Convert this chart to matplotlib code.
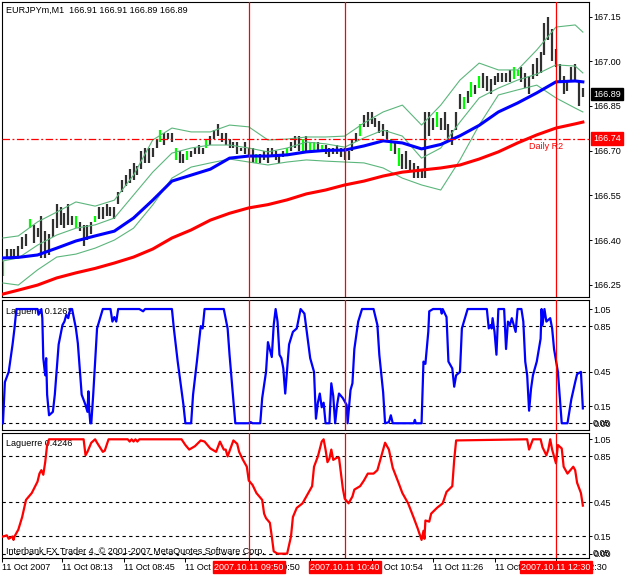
import matplotlib
matplotlib.use('Agg')
import numpy as np
from matplotlib import pyplot as plt

plt.rcParams['font.family'] = ['Liberation Sans', 'DejaVu Sans']
plt.rcParams['font.size'] = 6.5

# ---- data (times are minutes of the day, 11 Oct 2007, M1 chart) ----
bar_minutes = np.arange(462, 766, 2)
bar_high = [166.33, 166.37, 166.37, 166.37, 166.38, 166.41, 166.42, 166.47, 166.45, 166.44,
            166.48, 166.43, 166.42, 166.47, 166.52, 166.51, 166.49, 166.52, 166.48, 166.48,
            166.46, 166.45, 166.45, 166.46, 166.48, 166.51, 166.51, 166.52, 166.51, 166.51,
            166.56, 166.60, 166.62, 166.64, 166.66, 166.65, 166.70, 166.71, 166.71, 166.71,
            166.74, 166.77, 166.76, 166.76, 166.76, 166.71, 166.70, 166.69, 166.70, 166.70,
            166.71, 166.72, 166.71, 166.74, 166.75, 166.77, 166.79, 166.76, 166.76, 166.74,
            166.73, 166.73, 166.71, 166.73, 166.71, 166.71, 166.69, 166.69, 166.70, 166.71,
            166.71, 166.70, 166.69, 166.70, 166.71, 166.73, 166.75, 166.75, 166.74, 166.75,
            166.73, 166.73, 166.73, 166.72, 166.72, 166.71, 166.71, 166.72, 166.71, 166.71,
            166.70, 166.74, 166.76, 166.79, 166.82, 166.83, 166.83, 166.81, 166.80, 166.79,
            166.77, 166.74, 166.73, 166.71, 166.69, 166.70, 166.67, 166.66, 166.65, 166.64,
            166.83, 166.83, 166.81, 166.83, 166.81, 166.83, 166.79, 166.77, 166.83, 166.89,
            166.88, 166.90, 166.93, 166.92, 166.95, 166.96, 166.95, 166.94, 166.95, 166.96,
            166.96, 166.96, 166.97, 166.98, 166.97, 166.98, 166.96, 166.95, 166.99, 167.01,
            167.03, 167.13, 167.15, 167.11, 167.04, 166.99, 166.95, 166.93, 166.98, 166.99,
            166.93, 166.91]
bar_low = [166.28, 166.34, 166.34, 166.34, 166.34, 166.37, 166.38, 166.44, 166.39, 166.41,
           166.34, 166.34, 166.35, 166.41, 166.44, 166.45, 166.44, 166.45, 166.45, 166.44,
           166.43, 166.38, 166.40, 166.42, 166.46, 166.47, 166.47, 166.48, 166.48, 166.47,
           166.52, 166.56, 166.58, 166.59, 166.60, 166.62, 166.64, 166.66, 166.66, 166.68,
           166.71, 166.73, 166.72, 166.74, 166.73, 166.67, 166.66, 166.66, 166.67, 166.68,
           166.69, 166.69, 166.69, 166.71, 166.72, 166.74, 166.75, 166.73, 166.72, 166.71,
           166.71, 166.69, 166.70, 166.69, 166.68, 166.66, 166.66, 166.66, 166.67, 166.66,
           166.68, 166.67, 166.66, 166.68, 166.69, 166.70, 166.71, 166.70, 166.70, 166.70,
           166.70, 166.70, 166.70, 166.70, 166.69, 166.68, 166.69, 166.69, 166.68, 166.67,
           166.67, 166.70, 166.73, 166.75, 166.78, 166.78, 166.79, 166.78, 166.76, 166.75,
           166.74, 166.70, 166.69, 166.65, 166.64, 166.64, 166.63, 166.61, 166.61, 166.61,
           166.61, 166.75, 166.77, 166.78, 166.77, 166.77, 166.73, 166.72, 166.77, 166.84,
           166.84, 166.86, 166.88, 166.89, 166.91, 166.91, 166.90, 166.89, 166.92, 166.93,
           166.93, 166.93, 166.93, 166.94, 166.95, 166.93, 166.91, 166.89, 166.94, 166.95,
           166.96, 167.02, 167.07, 167.00, 166.98, 166.93, 166.89, 166.90, 166.93, 166.93,
           166.85, 166.88]
green_bars = [0, 7, 19, 24, 41, 45, 48, 53, 66, 74, 78, 80, 81, 83, 93, 101, 103,
              113, 120, 122, 124, 133, 134]

line_minutes = [462, 470, 480, 490, 500, 510, 520, 530, 540, 550, 560, 570, 580, 590,
                600, 610, 620, 630, 640, 650, 660, 670, 680, 690, 700, 710, 720, 730,
                740, 750, 760, 764]
ma_red = [166.219, 166.232, 166.249, 166.273, 166.290, 166.305, 166.323, 166.343, 166.370,
          166.407, 166.434, 166.467, 166.490, 166.508, 166.519, 166.535, 166.555, 166.568,
          166.585, 166.598, 166.615, 166.628, 166.635, 166.642, 166.652, 166.672, 166.696,
          166.726, 166.753, 166.776, 166.790, 166.796]
ma_blue = [166.340, 166.342, 166.350, 166.373, 166.397, 166.414, 166.430, 166.474, 166.534,
           166.598, 166.618, 166.638, 166.675, 166.682, 166.682, 166.686, 166.696, 166.701,
           166.702, 166.716, 166.733, 166.726, 166.706, 166.721, 166.750, 166.785, 166.830,
           166.860, 166.894, 166.931, 166.934, 166.931]
bb_upper = [166.407, 166.414, 166.461, 166.494, 166.528, 166.514, 166.534, 166.618, 166.736,
            166.776, 166.763, 166.763, 166.786, 166.780, 166.736, 166.739, 166.746, 166.746,
            166.749, 166.793, 166.830, 166.853, 166.786, 166.853, 166.937, 166.994, 166.971,
            166.971, 167.038, 167.115, 167.122, 167.098]
bb_middle = [166.330, 166.340, 166.383, 166.417, 166.440, 166.451, 166.474, 166.551, 166.628,
             166.692, 166.709, 166.719, 166.719, 166.709, 166.696, 166.709, 166.729, 166.723,
             166.712, 166.743, 166.769, 166.749, 166.675, 166.709, 166.796, 166.877, 166.910,
             166.937, 166.957, 166.988, 166.984, 166.961]
bb_lower = [166.256, 166.249, 166.300, 166.343, 166.353, 166.373, 166.400, 166.440, 166.518,
            166.608, 166.645, 166.659, 166.672, 166.662, 166.652, 166.662, 166.669, 166.665,
            166.662, 166.659, 166.642, 166.608, 166.585, 166.568, 166.669, 166.786, 166.887,
            166.904, 166.920, 166.877, 166.843, 166.830]

laguerre_fast = [
    (462, 0.0), (463, 0.36), (465, 0.45), (467, 0.69), (468, 0.83), (469, 1.0), (480, 1.0),
    (480.5, 0.95), (482, 1.0), (482.5, 0.92), (483, 0.57), (484, 0.42), (484.5, 0.57),
    (485, 0.25), (486, 0.07), (488, 0.10), (489, 0.25), (491, 0.69), (493, 0.86), (494, 0.89),
    (495, 0.95), (496, 0.92), (497, 1.0), (498, 1.0), (500, 0.83), (501, 0.70), (502, 0.48),
    (503, 0.25), (505, 0.16), (506, 0.10), (506.5, 0.28), (507, 0.10), (507.5, 0.0),
    (508, 0.0), (509, 0.25), (510, 0.54), (511, 0.83), (514, 1.0), (518, 1.0), (519, 0.89),
    (520, 0.93), (521, 0.89), (522, 1.0), (533, 1.0), (535, 0.98), (536, 1.0), (550, 1.0),
    (551, 0.83), (553, 0.54), (556, 0.16), (557, 0.0), (560, 0.0), (561, 0.25), (563, 0.54),
    (565, 0.85), (566, 0.83), (567, 1.0), (577, 1.0), (579, 0.83), (580, 0.60), (583, 0.0),
    (590, 0.0), (591, 0.01), (592, 0.0), (596, 0.0), (597, 0.22), (599, 0.45), (600, 0.71),
    (602, 0.58), (603, 0.86), (604, 1.0), (605, 0.89), (606, 0.60), (607, 0.57), (608, 0.48),
    (609, 0.26), (610, 0.48), (611, 0.69), (613, 0.80), (615, 0.83), (617, 1.0), (619, 0.96),
    (620, 0.83), (622, 0.57), (624, 0.45), (625, 0.04), (626, 0.18), (627, 0.26), (628, 0.14),
    (629, 0.18), (630, 0.0), (632, 0.0), (633, 0.35), (634, 0.24), (635, 0.0), (636, 0.16),
    (637, 0.26), (639, 0.22), (641, 0.16), (641.5, 0.0), (643, 0.29), (644, 0.35),
    (645, 0.65), (647, 0.89), (649, 1.0), (655, 1.0), (657, 0.86), (658, 0.60), (660, 0.27),
    (661, 0.0), (663, 0.01), (664, 0.07), (665, 0.0), (676, 0.0), (676.5, 0.03), (677, 0.0),
    (680, 0.0), (681, 0.54), (682, 0.52), (683, 0.71), (683.5, 0.80), (684, 0.98), (686, 1.0),
    (690, 1.0), (690.5, 0.96), (691, 1.0), (693, 0.93), (694, 0.54), (696, 0.48), (697, 0.32),
    (698, 0.42), (700, 0.45), (701, 0.83), (704, 1.0), (714, 1.0), (715, 0.83), (716, 0.86),
    (716.5, 0.83), (717, 0.92), (718, 0.80), (719, 0.60), (720, 1.0), (723, 1.0), (724, 0.65),
    (725, 0.89), (726, 0.86), (727, 0.92), (729, 0.80), (730, 1.0), (732, 1.0), (733, 0.89),
    (734, 0.54), (735, 0.42), (736, 0.11), (737, 0.30), (738, 0.42), (740, 0.54), (742, 0.74),
    (742.5, 1.0), (743, 0.86), (744, 1.0), (745, 0.89), (747, 0.92), (748, 0.83), (749, 0.65),
    (751, 0.45), (753, 0.0), (756, 0.0), (758, 0.21), (760, 0.36), (761, 0.43), (763, 0.45),
    (764, 0.13)]
laguerre_slow = [
    (462, 0.15), (464, 0.16), (465, 0.13), (467, 0.15), (467.5, 0.12), (468, 0.15),
    (470, 0.21), (472, 0.32), (474, 0.47), (477, 0.53), (480, 0.63), (481, 0.70), (482, 0.73),
    (483, 0.69), (484, 0.80), (485, 0.95), (486, 1.0), (504, 1.0), (505, 0.86), (506, 0.89),
    (508, 0.97), (510, 1.0), (511, 0.97), (514, 0.89), (515, 0.90), (517, 1.0), (527, 1.0),
    (528, 0.98), (529, 1.0), (530, 0.98), (531, 1.0), (532, 0.98), (533, 1.0), (555, 1.0),
    (557, 0.95), (559, 0.91), (562, 0.94), (565, 0.99), (567, 0.98), (570, 0.92), (573, 0.89),
    (575, 0.98), (577, 0.91), (578, 0.91), (579, 0.85), (582, 0.99), (584, 0.96), (585, 0.89),
    (587, 0.82), (589, 0.76), (590, 0.64), (592, 0.60), (594, 0.53), (597, 0.47), (598, 0.35),
    (599, 0.31), (601, 0.27), (602, 0.15), (603, 0.02), (605, 0.0), (610, 0.0), (612, 0.15),
    (613, 0.32), (615, 0.40), (618, 0.44), (620, 0.50), (623, 0.59), (624, 0.76), (626, 0.85),
    (628, 0.98), (629, 1.0), (630, 0.91), (631, 0.80), (632, 0.83), (633, 0.91), (634, 0.82),
    (636, 0.84), (637, 0.84), (639, 0.57), (640, 0.48), (642, 0.44), (644, 0.50), (645, 0.56),
    (648, 0.59), (650, 0.64), (652, 0.70), (655, 0.70), (657, 0.73), (659, 0.85), (661, 0.97),
    (663, 0.91), (665, 0.75), (668, 0.62), (670, 0.53), (673, 0.44), (676, 0.31), (678, 0.22),
    (680, 0.12), (681, 0.20), (681.5, 0.13), (682, 0.29), (684, 0.28), (685, 0.35),
    (688, 0.40), (691, 0.44), (693, 0.54), (696, 0.59), (697, 0.82), (698, 0.99), (735, 1.0),
    (736, 0.91), (738, 1.0), (742, 1.0), (743, 0.93), (745, 0.86), (746, 0.91), (747, 1.0),
    (748, 0.91), (750, 0.79), (751, 0.95), (753, 0.92), (754, 0.76), (756, 0.70), (757, 0.72),
    (759, 0.76), (760, 0.73), (761, 0.62), (763, 0.53), (764, 0.42)]

price_ticks = [166.25, 166.40, 166.55, 166.70, 166.85, 167.00, 167.15]
osc_levels = [0.85, 0.45, 0.15, 0.0]
marker_times = [590, 640, 750]
marker_labels = ['2007.10.11 09:50', '2007.10.11 10:40', '2007.10.11 12:30']
time_ticks = [461.5, 493, 525, 557, 590, 622, 654, 686, 718, 750]
time_labels = ['11 Oct 2007', '11 Oct 08:13', '11 Oct 08:45', '11 Oct 09:17', '11 Oct 09:50',
               '11 Oct 10:22', '11 Oct 10:54', '11 Oct 11:26', '11 Oct 11:58', '11 Oct 12:30']
last_price = 166.89
r2_level = 166.74

# ---- layout (pixel boxes of the three panes) ----
W, H = 625, 577
PT = 0.72  # points per pixel at dpi 100


def pane(left, top, right, bottom):
    return fig.add_axes([left / W, 1 - bottom / H, (right - left) / W, (bottom - top) / H])


fig = plt.figure(figsize=(W / 100, H / 100), dpi=100)
fig.patch.set_facecolor('white')
ax1 = pane(2, 2, 589, 297)
ax2 = pane(2, 300, 589, 430)
ax3 = pane(2, 433, 589, 558)

for ax in (ax1, ax2, ax3):
    ax.set_xlim(461.5, 767.2)
    ax.set_facecolor('white')
    for s in ax.spines.values():
        s.set_color('black')
        s.set_linewidth(0.8)
    ax.yaxis.tick_right()
    ax.tick_params(axis='y', length=2, width=0.7, pad=1, labelsize=6.5)
    for t in marker_times:
        ax.axvline(t, color='red', lw=0.9, zorder=5)

ax1.set_ylim(166.209, 167.199)
ax2.set_ylim(-0.059, 1.079)
ax3.set_ylim(-0.038, 1.055)

# ---- main pane ----
colors = ['#00ff00' if i in green_bars else '#303030' for i in range(len(bar_high))]
ax1.vlines(bar_minutes, bar_low, bar_high, colors=colors, lw=1.6, zorder=2)
for band in (bb_upper, bb_middle, bb_lower):
    ax1.plot(line_minutes, band, color='#5cb67c', lw=0.8, zorder=3)
ax1.plot(line_minutes, ma_red, color='#ff0000', lw=2.2, zorder=4)
ax1.plot(line_minutes, ma_blue, color='#0000ff', lw=2.2, zorder=4)
ax1.axhline(r2_level, color='red', lw=0.9, ls=(0, (6, 2, 1.5, 2)), zorder=4)
ax1.text(745, r2_level - 0.026, 'Daily R2', color='red', ha='center', va='center', zorder=6)
ax1.set_xticks([])
ax1.set_yticks(price_ticks)
ax1.set_yticklabels([f'{p:.2f}' for p in price_ticks])
ax1.annotate('EURJPYm,M1  166.91 166.91 166.89 166.89', xy=(0, 1), xycoords='axes fraction',
             xytext=(4 * PT, -8 * PT), textcoords='offset points', ha='left', va='center')
for val, box in ((last_price, 'black'), (r2_level, 'red')):
    ax1.annotate(f'{val:.2f}', xy=(1, val), xycoords=('axes fraction', 'data'),
                 xytext=(4 * PT, 0), textcoords='offset points', ha='left', va='center',
                 color='white', annotation_clip=False, zorder=10,
                 bbox=dict(boxstyle='square,pad=0.2', fc=box, ec=box))

# ---- oscillator panes ----
for ax, data, col, name in ((ax2, laguerre_fast, '#0000ff', 'Laguerre 0.1262'),
                            (ax3, laguerre_slow, '#ff0000', 'Laguerre 0.4246')):
    for lev in osc_levels:
        ax.axhline(lev, color='black', lw=0.8, ls=(0, (3, 3)), zorder=1)
    t, v = zip(*data)
    ax.plot(t, v, color=col, lw=1.6, zorder=3)
    ax.set_yticks([1.0, 0.85, 0.45, 0.15, 0.0])
    ax.set_yticklabels(['1.05', '0.85', '0.45', '0.15', '0.00'])
    # the scale minimum is printed on top of the 0.00 level label, as in the terminal
    ax.annotate('0.05', xy=(1, 0.0), xycoords=('axes fraction', 'data'),
                xytext=(4 * PT, 0), textcoords='offset points', ha='left', va='center',
                annotation_clip=False)
    ax.annotate(name, xy=(0, 1), xycoords='axes fraction', xytext=(4 * PT, -11 * PT),
                textcoords='offset points', ha='left', va='center', zorder=2)
ax2.set_xticks([])

ax3.annotate('Interbank FX Trader 4, \u00a9 2001-2007 MetaQuotes Software Corp.', xy=(0, 0),
             xycoords='axes fraction', xytext=(4 * PT, 6 * PT), textcoords='offset points',
             ha='left', va='center', zorder=2)
ax3.set_xticks(time_ticks)
ax3.tick_params(axis='x', length=3, width=0.7, direction='out', labelbottom=False)
for t, lab in zip(time_ticks, time_labels):
    ax3.annotate(lab, xy=(t, 0), xycoords=ax3.get_xaxis_transform(), xytext=(0, -9 * PT),
                 textcoords='offset points', ha='left', va='center', annotation_clip=False)
for t, lab in zip(marker_times, marker_labels):
    ax3.annotate(lab, xy=(t, 0), xycoords=ax3.get_xaxis_transform(), xytext=(0, -9 * PT),
                 textcoords='offset points', ha='center', va='center', color='white',
                 annotation_clip=False, zorder=10,
                 bbox=dict(boxstyle='square,pad=0.15', fc='red', ec='red'))

fig.savefig('out.png', dpi=100, facecolor='white')
